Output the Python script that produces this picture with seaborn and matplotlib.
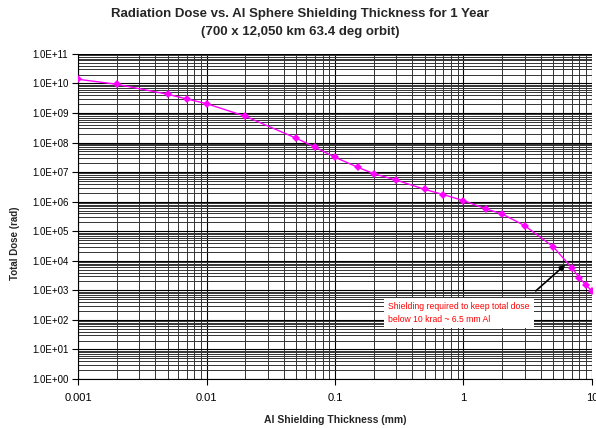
import matplotlib
matplotlib.use('AGG')
import matplotlib.pyplot as plt
from matplotlib.ticker import LogLocator, FuncFormatter, NullFormatter
import numpy as np
import pandas as pd
import seaborn as sns

# Al shielding thickness (mm) and 1-year total dose (rad)
thickness = [0.001, 0.002, 0.005, 0.007, 0.01, 0.02, 0.05, 0.07, 0.1, 0.15,
             0.2, 0.3, 0.5, 0.7, 1.0, 1.5, 2.0, 3.0, 5.0, 7.0, 8.0, 9.0, 10.0]
dose = [1.39e10, 9.4e9, 4.3e9, 3.0e9, 2.08e9, 7.8e8, 1.40e8, 6.97e7, 3.19e7,
        1.47e7, 8.9e6, 5.4e6, 2.6e6, 1.73e6, 1.09e6, 5.7e5, 3.85e5, 1.55e5,
        3.0e4, 5.7e3, 2.63e3, 1.52e3, 9.5e2]

df = pd.DataFrame({'thickness': thickness, 'dose': dose})

sns.set_style('white')
plt.rcParams['font.family'] = ['Liberation Sans', 'DejaVu Sans']

fig = plt.figure(figsize=(5.96, 4.28), dpi=100)
ax = fig.add_axes([0.131, 0.1145, 0.862, 0.7595])

sns.lineplot(data=df, x='thickness', y='dose', ax=ax, color='#FF00FF',
             marker='D', markersize=4.5, markeredgewidth=0, linewidth=1,
             zorder=5)

ax.set_xscale('log')
ax.set_yscale('log')
ax.set_xlim(0.001, 10)
ax.set_ylim(1, 1e11)

ax.yaxis.set_major_locator(LogLocator(base=10, numticks=20))
ax.yaxis.set_minor_locator(LogLocator(base=10, subs=np.arange(2, 10), numticks=20))
ax.xaxis.set_major_locator(LogLocator(base=10, numticks=20))
ax.xaxis.set_minor_locator(LogLocator(base=10, subs=np.arange(2, 10), numticks=20))

ax.yaxis.set_major_formatter(FuncFormatter(lambda v, p: f"{v:.1E}"))
ax.xaxis.set_major_formatter(FuncFormatter(lambda v, p: f"{v:g}"))
ax.xaxis.set_minor_formatter(NullFormatter())
ax.yaxis.set_minor_formatter(NullFormatter())

ax.grid(which='major', color='black', linewidth=0.8)
ax.grid(which='minor', color='#333333', linewidth=0.7)
ax.set_axisbelow(True)

for s in ['top', 'right']:
    ax.spines[s].set_visible(False)
for s in ['left', 'bottom']:
    ax.spines[s].set_color('black')
    ax.spines[s].set_linewidth(0.8)

ax.tick_params(which='major', direction='out', length=4, width=0.8,
               colors='black', left=True, bottom=True)
ax.tick_params(axis='y', labelsize=7, pad=3)
ax.tick_params(axis='x', labelsize=8, pad=6)
ax.tick_params(which='minor', length=0)

ax.set_xlabel('Al Shielding Thickness (mm)', fontsize=7.5, fontweight='bold', labelpad=9)
ax.set_ylabel('Total Dose (rad)', fontsize=7, fontweight='bold')
ax.yaxis.set_label_coords(-0.113, 0.418)

fig.suptitle('Radiation Dose vs. Al Sphere Shielding Thickness for 1 Year\n'
             '(700 x 12,050 km 63.4 deg orbit)',
             x=0.503, y=0.982, va='top', fontsize=9.5, fontweight='bold',
             linespacing=1.65)

# note box and leader arrow
ax.text(0.26, 172, 'Shielding required to keep total dose\nbelow 10 krad ~ 6.5 mm Al',
        fontsize=6.2, color='#FF0000', ha='left', va='center', zorder=6,
        linespacing=1.45,
        bbox=dict(boxstyle='square,pad=0.5', fc='white', ec='none'))
ax.annotate('', xy=(6.2, 7.3e3), xytext=(3.66, 955), textcoords='data',
            zorder=7,
            arrowprops=dict(arrowstyle='-|>', color='black', lw=1.2,
                            mutation_scale=8, shrinkA=0, shrinkB=0))

fig.savefig('out.png', dpi=100)
